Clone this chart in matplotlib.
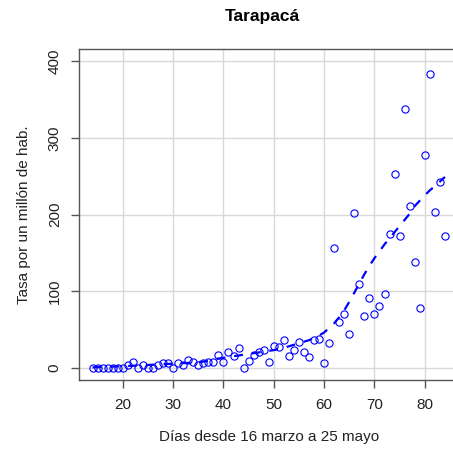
import matplotlib
matplotlib.use("Agg")
import matplotlib.pyplot as plt

plt.rcParams['font.family'] = ['Liberation Sans', 'DejaVu Sans']

# --- data ---
dias = list(range(14, 85))
tasa = [0, 0, 0, 0, 0, 0, 0, 3.5, 8, 0,
        3.5, 0, 0, 3.5, 5.7, 5.7, 0, 5.7, 3.5, 10,
        8, 3, 5.7, 8, 8, 16.5, 7, 20, 15.7, 25.7,
        0, 9, 17, 20, 23, 7, 28.7, 26.6, 36, 15.7,
        23, 34, 20, 13.5, 36, 37.4, 5.7, 32, 156, 60,
        70, 44.4, 202.5, 109, 67, 91.4, 70.5, 81, 95.8, 174,
        253, 172, 338, 211, 138.5, 78, 278, 383, 203, 242,
        171.5]
# suavizado (linea discontinua)
tendencia = [0.5, 0.8, 1, 1.2, 1.5, 1.8, 2, 2.3, 2.6, 3,
             3.3, 3.6, 4, 4.3, 4.6, 5, 5.3, 5.6, 6, 6.3,
             6.7, 7.2, 8, 9, 10.5, 12, 13, 14, 15, 16,
             17, 18, 19, 20, 21, 22, 23, 24.5, 26, 28,
             30, 32, 34, 36, 39, 42, 46, 52, 58, 66,
             75, 86, 98, 110, 122, 133, 143, 152, 161, 169,
             177, 185, 193, 201, 211, 218, 225, 231.5, 237, 243,
             249]

xticks = [20, 30, 40, 50, 60, 70, 80]
yticks = [0, 100, 200, 300, 400]

fig = plt.figure(figsize=(4.53, 4.5), dpi=100)
# right edge of the frame falls outside the picture, as in the reference
ax = fig.add_axes([78.5 / 453, 70 / 450, 380.5 / 453, 331 / 450])

ax.set_xlim(11.2, 86.8)
ax.set_ylim(-16, 416)

ax.set_xticks(xticks)
ax.set_yticks(yticks)
ax.grid(True, color='#d9d9d9', lw=1, zorder=0)
ax.set_axisbelow(True)

ax.plot(dias, tasa, 'o', mfc='none', mec='#0000ff', mew=0.8, ms=5.2, zorder=3)
ax.plot(dias, tendencia, '--', color='#0000ff', lw=1.6, dashes=(4, 4), zorder=2)

for s in ax.spines.values():
    s.set_color('#555555')
    s.set_linewidth(1)

ax.tick_params(axis='both', length=6, width=1, color='#555555',
               labelsize=11, labelcolor='#222222')
ax.tick_params(axis='x', pad=7)
ax.tick_params(axis='y', pad=6)
for lab in ax.get_yticklabels():
    lab.set_rotation(90)
    lab.set_va('center')

ax.set_xlabel('Días desde 16 marzo a 25 mayo', fontsize=11, color='#222222', labelpad=13)
ax.set_ylabel('Tasa por un millón de hab.', fontsize=11, color='#222222', labelpad=12)
fig.text(262 / 453, 1 - 17 / 450, 'Tarapacá', ha='center', va='center',
         fontsize=12.5, fontweight='bold')

fig.savefig('out.png', dpi=100)
